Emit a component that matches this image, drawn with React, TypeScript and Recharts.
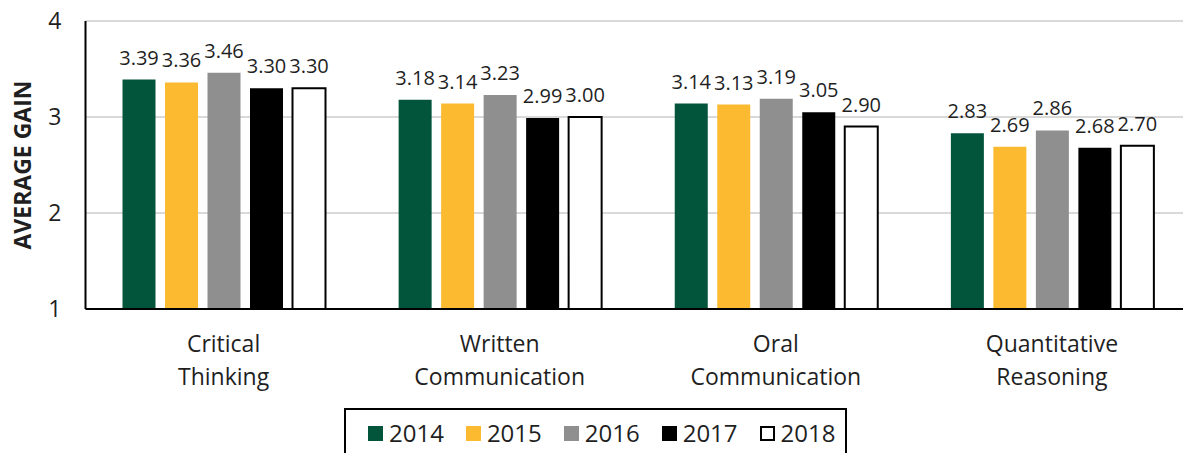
import React from "react";
import { BarChart, Bar, XAxis, YAxis, CartesianGrid, LabelList, Label } from "recharts";

const categories = ["Critical Thinking", "Written Communication", "Oral Communication", "Quantitative Reasoning"];
const years = ["2014", "2015", "2016", "2017", "2018"];
const gain2014 = [3.39, 3.18, 3.14, 2.83];
const gain2015 = [3.36, 3.14, 3.13, 2.69];
const gain2016 = [3.46, 3.23, 3.19, 2.86];
const gain2017 = [3.3, 2.99, 3.05, 2.68];
const gain2018 = [3.3, 3.0, 2.9, 2.7];
const yTicks = [1, 2, 3, 4];

const seriesValues = [gain2014, gain2015, gain2016, gain2017, gain2018];
const fills = ["#02543b", "#fbba30", "#8f8f8f", "#000000", "#ffffff"];

const data = categories.map((name, i) => {
  const row: Record<string, string | number> = { name };
  years.forEach((y, j) => {
    row[y] = seriesValues[j][i];
  });
  return row;
});

const FONT = "'Open Sans', sans-serif";
const TEXT = "#1f1f1f";

const CategoryTick = (props: any) => {
  const { x, y, payload } = props;
  const lines = String(payload.value).split(" ");
  return (
    <g>
      {lines.map((line: string, i: number) => (
        <text key={i} x={x} y={y + 35 + i * 33} textAnchor="middle" fill={TEXT} fontSize={23} fontFamily={FONT}>
          {line}
        </text>
      ))}
    </g>
  );
};

const App: React.FC = () => {
  return (
    <div style={{ position: "absolute", left: 0, top: 0, width: 1183, height: 453, overflow: "hidden", background: "#fff" }}>
      <BarChart
        width={1200}
        height={453}
        data={data}
        margin={{ top: 21, right: 10, left: 0, bottom: 0 }}
        barSize={33}
        barGap={9.5}
      >
        <CartesianGrid vertical={false} stroke="#d9d9d9" strokeWidth={2} />
        <XAxis
          dataKey="name"
          height={144}
          axisLine={{ stroke: "#000", strokeWidth: 2 }}
          tickLine={false}
          interval={0}
          tick={<CategoryTick />}
        />
        <YAxis
          width={85.5}
          domain={[1, 4]}
          ticks={yTicks}
          allowDataOverflow
          axisLine={{ stroke: "#000", strokeWidth: 2 }}
          tickLine={false}
          tickMargin={18}
          tick={{ fill: TEXT, fontSize: 23, fontFamily: FONT }}
        >
          <Label
            value="AVERAGE GAIN"
            angle={-90}
            position="insideLeft"
            offset={0}
            style={{ fill: TEXT, fontSize: 23, fontWeight: 700, fontFamily: FONT, textAnchor: "middle" }}
            dx={23}
          />
        </YAxis>
        {years.map((y, j) => (
          <Bar
            key={y}
            dataKey={y}
            fill={fills[j]}
            stroke={j === 4 ? "#000" : "none"}
            strokeWidth={j === 4 ? 2 : 0}
            isAnimationActive={false}
          >
            <LabelList
              dataKey={y}
              position="top"
              offset={15}
              formatter={(v: any) => Number(v).toFixed(2)}
              style={{ fill: TEXT, fontSize: 20, fontFamily: FONT }}
            />
          </Bar>
        ))}
      </BarChart>
      <div
        style={{
          position: "absolute",
          left: 344,
          top: 408,
          width: 503,
          height: 60,
          border: "2px solid #000",
          boxSizing: "border-box",
          display: "flex",
          alignItems: "flex-start",
          paddingLeft: 22,
          paddingTop: 7,
          gap: 22,
          fontFamily: FONT,
          fontSize: 24,
          color: TEXT,
        }}
      >
        {years.map((y, j) => (
          <div key={y} style={{ display: "flex", alignItems: "center", gap: 6, lineHeight: "32px" }}>
            <span
              style={{
                display: "inline-block",
                width: 15,
                height: 15,
                background: fills[j],
                border: j === 4 ? "2px solid #000" : "none",
                boxSizing: "border-box",
              }}
            />
            <span>{y}</span>
          </div>
        ))}
      </div>
    </div>
  );
};

export default App;
